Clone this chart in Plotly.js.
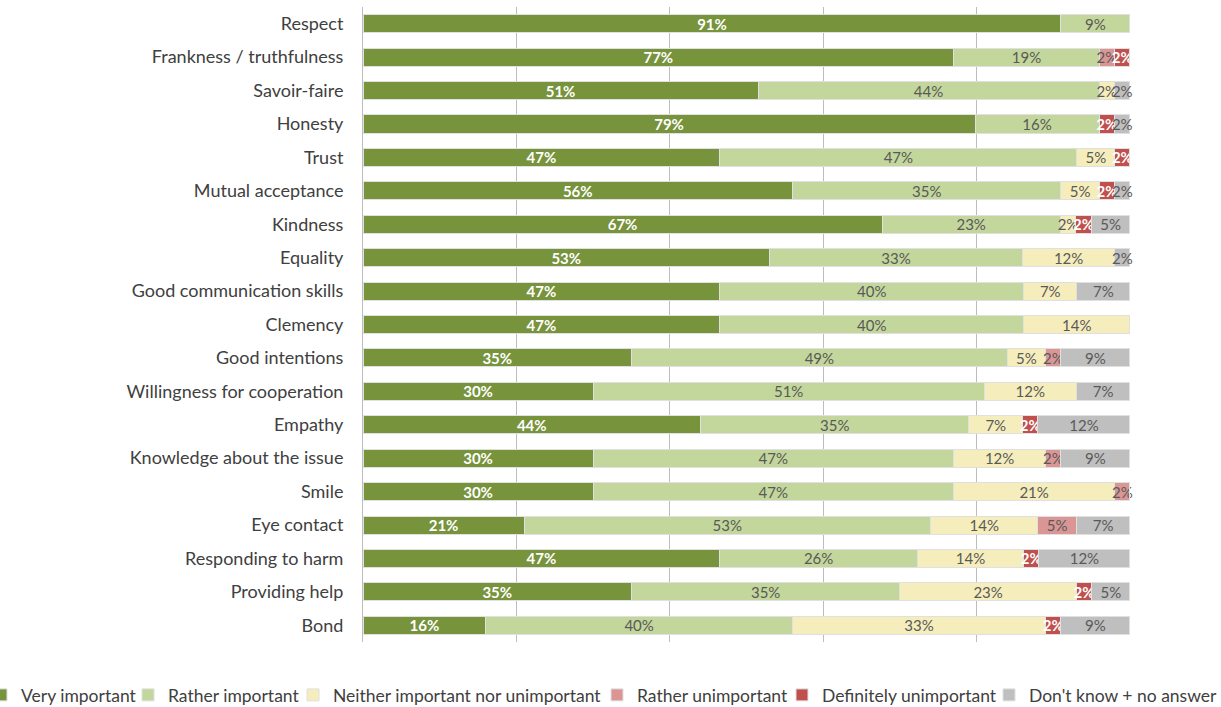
<!DOCTYPE html>
<html>
<head>
<meta charset="utf-8">
<script src="https://cdn.plot.ly/plotly-3.0.1.min.js"></script>
<style>html,body{margin:0;padding:0;background:#fff;}#chart{width:1221px;height:707px;}</style>
</head>
<body>
<div id="chart"></div>
<script>
const categories = ["Respect","Frankness / truthfulness","Savoir-faire","Honesty","Trust","Mutual acceptance","Kindness","Equality","Good communication skills","Clemency","Good intentions","Willingness for cooperation","Empathy","Knowledge about the issue","Smile","Eye contact","Responding to harm","Providing help","Bond"];
const seriesNames = ["Very important","Rather important","Neither important nor unimportant","Rather unimportant","Definitely unimportant","Don't know + no answer"];
const veryImportant      = [91,77,51,79,47,56,67,53,47,47,35,30,44,30,30,21,47,35,16];
const ratherImportant    = [9,19,44,16,47,35,23,33,40,40,49,51,35,47,47,53,26,35,40];
const neither            = [0,0,2,0,5,5,2,12,7,14,5,12,7,12,21,14,14,23,33];
const ratherUnimportant  = [0,2,0,0,0,0,0,0,0,0,2,0,0,2,2,5,0,0,0];
const definitelyUnimp    = [0,2,0,2,2,2,2,0,0,0,0,0,2,0,0,0,2,2,2];
const dontKnow           = [0,0,2,2,0,2,5,2,7,0,9,7,12,9,0,7,12,5,9];

const seriesValues = [veryImportant, ratherImportant, neither, ratherUnimportant, definitelyUnimp, dontKnow];
const colors = ["#77933C","#C3D69B","#F5EDBB","#D99694","#C0504D","#BFBFBF"];
const textColors = ["#ffffff","#595959","#595959","#595959","#ffffff","#595959"];
const textBold = [true,false,false,false,true,false];
const FONT = "Lato, 'Liberation Sans', sans-serif";
const legendTextPx = [21, 168, 333, 637, 822, 1029];
const legendNames = ['legend','legend2','legend3','legend4','legend5','legend6'];

const traces = seriesValues.map((vals, i) => ({
  type: 'bar',
  orientation: 'h',
  name: seriesNames[i],
  legend: legendNames[i],
  y: categories,
  x: vals,
  text: vals.map(v => v > 0 ? v + '%' : ''),
  textposition: 'inside',
  insidetextanchor: 'middle',
  textangle: 0,
  constraintext: 'none',
  cliponaxis: false,
  hoverinfo: 'none',
  textfont: {family: FONT, size: 15, color: textColors[i], weight: textBold[i] ? 'bold' : 'normal'},
  marker: {color: colors[i], line: {color: '#E0E0E0', width: 1}}
}));

const L = 363, R = 91, W = 1221;
const plotW = W - L - R;

const layout = {
  width: 1221, height: 707,
  margin: {l: L, r: R, t: 7, b: 65, autoexpand: false},
  barmode: 'stack',
  barnorm: 'percent',
  bargap: 0.46,
  paper_bgcolor: '#fff',
  plot_bgcolor: '#fff',
  showlegend: true,
  uniformtext: {mode: 'show', minsize: 15},
  font: {family: FONT, color: '#404040'},
  xaxis: {
    range: [0, 100.001], tick0: 0, dtick: 20, showticklabels: false,
    showgrid: true, gridcolor: '#BDBDBD', gridwidth: 1, zeroline: false,
    showline: false, fixedrange: true
  },
  yaxis: {
    autorange: 'reversed', showgrid: false, showline: true, linecolor: '#BDBDBD',
    ticks: '', ticklen: 0, ticklabelstandoff: 15,
    tickfont: {family: FONT, size: 18, color: '#404040'},
    automargin: false
  }
};
legendNames.forEach((ln, i) => {
  layout[ln] = {
    orientation: 'h', xref: 'paper', yref: 'container',
    x: (legendTextPx[i] - 40 - L) / plotW, xanchor: 'left', y: 1 - 695 / 707, yanchor: 'middle',
    font: {family: FONT, size: 17.5, color: '#404040'},
    itemwidth: 30, bgcolor: 'rgba(0,0,0,0)'
  };
});

Plotly.newPlot('chart', traces, layout, {displayModeBar: false, staticPlot: true});
</script>
</body>
</html>
